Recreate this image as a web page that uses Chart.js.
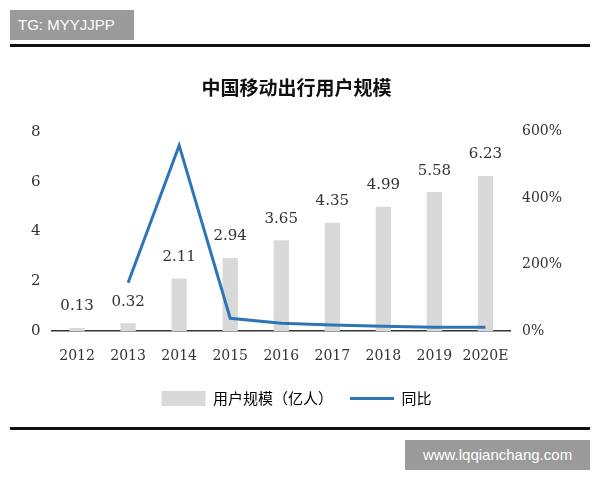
<!DOCTYPE html>
<html><head><meta charset="utf-8">
<script src="https://cdn.jsdelivr.net/npm/chart.js@4"></script>
<style>
body{margin:0;width:600px;height:480px;background:#fff;position:relative;overflow:hidden;font-family:"Noto Sans CJK SC",sans-serif}
#wm1{position:absolute;left:10px;top:10px;width:124px;height:30px;background:#9a9a9a;color:#fff;font:15px "Liberation Sans",sans-serif;line-height:30px;padding-left:8px;box-sizing:border-box}
#wm2{position:absolute;left:405px;top:440px;width:185px;height:30px;background:#9a9a9a;color:#fff;font:15px "Liberation Sans",sans-serif;line-height:30px;text-align:center}
#l1{position:absolute;left:10px;top:44px;width:580px;height:3px;background:#111}
#l2{position:absolute;left:10px;top:427px;width:580px;height:3px;background:#111}
#box{position:absolute;left:0;top:62px;width:600px;height:362px}
</style></head><body>
<div id="wm1">TG: MYYJJPP</div>
<div id="l1"></div>
<div id="box"><canvas id="c"></canvas></div>
<div id="l2"></div>
<div id="wm2">www.lqqianchang.com</div>
<script>
const categories=["2012","2013","2014","2015","2016","2017","2018","2019","2020E"];
const users=[0.13,0.32,2.11,2.94,3.65,4.35,4.99,5.58,6.23];
const growth=[null,146,559,39,24,19,15,12,12];
const leftTicks=[0,2,4,6,8];
const rightTicks=[0,200,400,600];
const labelPlugin={id:'lbl',afterDatasetsDraw(ch){const ctx=ch.ctx;const m=ch.getDatasetMeta(0);ctx.save();ctx.font='15px "DejaVu Serif",serif';ctx.fillStyle='#333';ctx.textAlign='center';ctx.textBaseline='bottom';
m.data.forEach((b,i)=>{ctx.fillText(users[i].toFixed(2),b.x,b.y-14);});ctx.restore();}};
new Chart(document.getElementById('c'),{
type:'bar',
data:{labels:categories,datasets:[
{label:'用户规模（亿人）',data:users,backgroundColor:'#d9d9d9',barPercentage:0.3,categoryPercentage:1,yAxisID:'y',order:2},
{label:'同比',type:'line',data:growth,borderColor:'#2e75b6',backgroundColor:'#2e75b6',borderWidth:3,pointRadius:0,tension:0,yAxisID:'y1',order:1}
]},
options:{responsive:true,maintainAspectRatio:false,animation:false,
layout:{padding:{left:28,right:35,top:0,bottom:8}},
plugins:{title:{display:true,text:'中国移动出行用户规模',font:{size:19,weight:'bold',family:'"Noto Sans CJK SC"'},color:'#111',padding:{top:14,bottom:33}},
legend:{position:'bottom',labels:{usePointStyle:true,pointStyleWidth:44,padding:17,font:{size:15,family:'"Noto Sans CJK SC"'},color:'#333',
generateLabels:ch=>[{text:'用户规模（亿人）',fillStyle:'#d9d9d9',strokeStyle:'#d9d9d9',lineWidth:0,pointStyle:'rect',datasetIndex:0},{text:'同比',fillStyle:'#2e75b6',strokeStyle:'#2e75b6',lineWidth:3,pointStyle:'line',datasetIndex:1}]}},tooltip:{enabled:false}},
scales:{
x:{grid:{display:false},border:{color:'#333',width:1.5},ticks:{padding:9,maxRotation:0,autoSkip:false,color:'#333',font:{size:14,family:'"DejaVu Serif",serif'}}},
y:{min:0,max:8,afterBuildTicks:a=>{a.ticks=leftTicks.map(v=>({value:v}));},grid:{display:false},border:{display:false},ticks:{color:'#333',font:{size:15,family:'"DejaVu Serif",serif'}}},
y1:{position:'right',min:0,max:600,afterBuildTicks:a=>{a.ticks=rightTicks.map(v=>({value:v}));},grid:{display:false},border:{display:false},ticks:{color:'#333',font:{size:14,family:'"DejaVu Serif",serif'},callback:v=>v+'%'}}
}},
plugins:[labelPlugin]});
</script></body></html>
